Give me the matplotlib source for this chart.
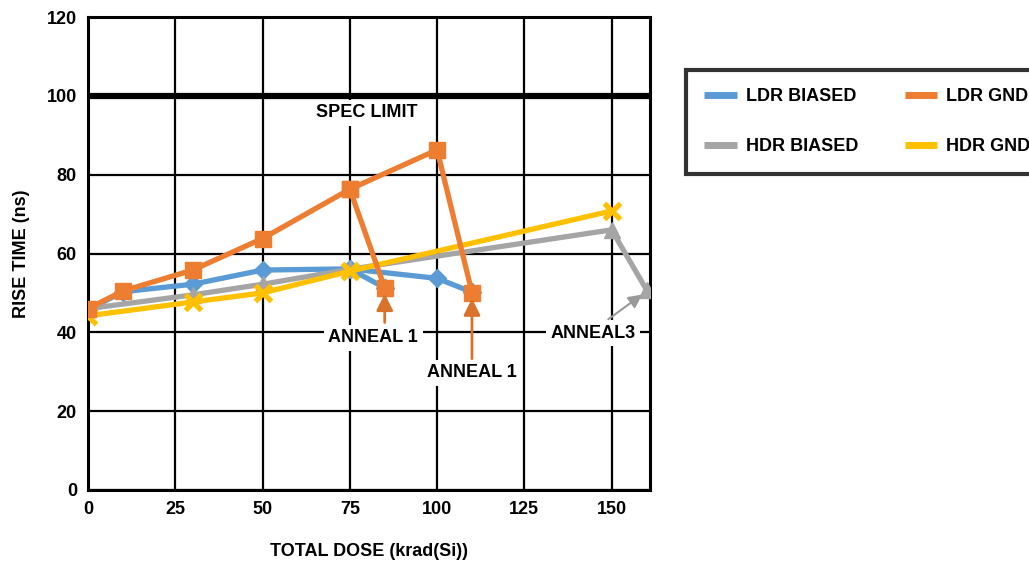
import matplotlib
matplotlib.use("Agg")
import matplotlib.pyplot as plt
from matplotlib.lines import Line2D

plt.rcParams['font.family'] = ['Liberation Sans', 'DejaVu Sans']
plt.rcParams['font.weight'] = 'bold'

# ---- data ----
ldr_biased_x = [0, 10, 30, 50, 75, 100, 110]
ldr_biased_y = [45.7, 50.3, 52.2, 55.8, 56.1, 53.7, 50.2]
ldr_biased_anneal_x = [75, 85]
ldr_biased_anneal_y = [56.1, 51.3]

ldr_gnd_x = [0, 10, 30, 50, 75, 100, 110]
ldr_gnd_y = [46.0, 50.5, 55.8, 63.8, 76.3, 86.3, 50.1]
ldr_gnd_anneal_x = [75, 85]
ldr_gnd_anneal_y = [76.3, 51.3]

hdr_biased_x = [0, 30, 50, 75, 150, 160]
hdr_biased_y = [46.0, 49.5, 52.2, 56.0, 66.0, 50.8]

hdr_gnd_x = [0, 30, 50, 75, 150]
hdr_gnd_y = [44.2, 47.7, 50.0, 55.5, 70.8]

spec_limit = 100
x_ticks = [0, 25, 50, 75, 100, 125, 150]
y_ticks = [0, 20, 40, 60, 80, 100, 120]

blue = '#5B9BD5'
orange = '#ED7D31'
gray = '#A5A5A5'
yellow = '#FFC000'
FS = 13

fig = plt.figure(figsize=(10.29, 5.63), dpi=100)
ax = fig.add_axes([88/1029, 1-490/563, (650-88)/1029, (490-17)/563])

ax.set_xlim(0, 161)
ax.set_ylim(0, 120)
ax.set_xticks(x_ticks)
ax.set_yticks(y_ticks)
ax.grid(True, color='black', lw=1.6, zorder=0)
ax.set_axisbelow(True)
for s in ax.spines.values():
    s.set_linewidth(2.2)
    s.set_color('black')
ax.tick_params(length=0, labelsize=FS, pad=8)
for lab in ax.get_xticklabels() + ax.get_yticklabels():
    lab.set_fontweight('bold')

ax.axhline(spec_limit, color='black', lw=4.5, zorder=2)

lw = 3.8
ax.plot(ldr_biased_anneal_x, ldr_biased_anneal_y, color=blue, lw=lw, marker='D', ms=9, zorder=3)
ax.plot(ldr_biased_x, ldr_biased_y, color=blue, lw=lw, marker='D', ms=9, zorder=3, label='LDR BIASED')
ax.plot(hdr_biased_x, hdr_biased_y, color=gray, lw=lw, marker='^', ms=11, zorder=3, label='HDR BIASED')
ax.plot(hdr_gnd_x, hdr_gnd_y, color=yellow, lw=lw, marker='x', ms=11, mew=3.8, zorder=4, label='HDR GND')
ax.plot(ldr_gnd_anneal_x, ldr_gnd_anneal_y, color=orange, lw=lw, marker='s', ms=11, zorder=5)
ax.plot(ldr_gnd_x, ldr_gnd_y, color=orange, lw=lw, marker='s', ms=11, zorder=5, label='LDR GND')

bb = dict(boxstyle='square,pad=0.25', fc='white', ec='none')
ax.text(80, 95.7, 'SPEC LIMIT', ha='center', va='center', fontsize=FS, fontweight='bold', bbox=bb, zorder=6)

arrow_orange = '#D9732B'
ax.text(81.7, 38.6, 'ANNEAL 1', ha='center', va='center', fontsize=FS, fontweight='bold', bbox=bb, zorder=6)
ax.annotate('', xy=(85, 50.5), xytext=(85, 41.8),
            arrowprops=dict(arrowstyle='-|>', color=arrow_orange, lw=2, mutation_scale=25), zorder=6)
ax.text(110, 29.7, 'ANNEAL 1', ha='center', va='center', fontsize=FS, fontweight='bold', bbox=bb, zorder=6)
ax.annotate('', xy=(110, 49.3), xytext=(110, 32.6),
            arrowprops=dict(arrowstyle='-|>', color=arrow_orange, lw=2, mutation_scale=25), zorder=6)
ax.text(144.7, 39.8, 'ANNEAL3', ha='center', va='center', fontsize=FS, fontweight='bold', bbox=bb, zorder=6)
ax.annotate('', xy=(159.4, 50.0), xytext=(148.4, 42.9),
            arrowprops=dict(arrowstyle='-|>', color='#999999', lw=1.5, mutation_scale=20), zorder=6)

ax.set_xlabel('TOTAL DOSE (krad(Si))', fontsize=FS, fontweight='bold', labelpad=18)
ax.set_ylabel('RISE TIME (ns)', fontsize=FS, fontweight='bold', labelpad=12)

handles, labels = ax.get_legend_handles_labels()
order = ['LDR BIASED', 'HDR BIASED', 'LDR GND', 'HDR GND']
hmap = dict(zip(labels, handles))
leg_handles = [Line2D([], [], color=hmap[name].get_color(), lw=5, solid_capstyle='butt') for name in order]
leg = fig.legend(leg_handles, order, ncol=2, loc='upper left',
                 bbox_to_anchor=(686/1029, 1-70/563), frameon=True, fancybox=False,
                 fontsize=FS, handlelength=1.8, handletextpad=0.5, borderpad=1.0,
                 labelspacing=1.85, columnspacing=2.6, borderaxespad=0)
leg.get_frame().set_edgecolor('black')
leg.get_frame().set_linewidth(3)
for t in leg.get_texts():
    t.set_fontweight('bold')

fig.savefig('out.png', dpi=100)
